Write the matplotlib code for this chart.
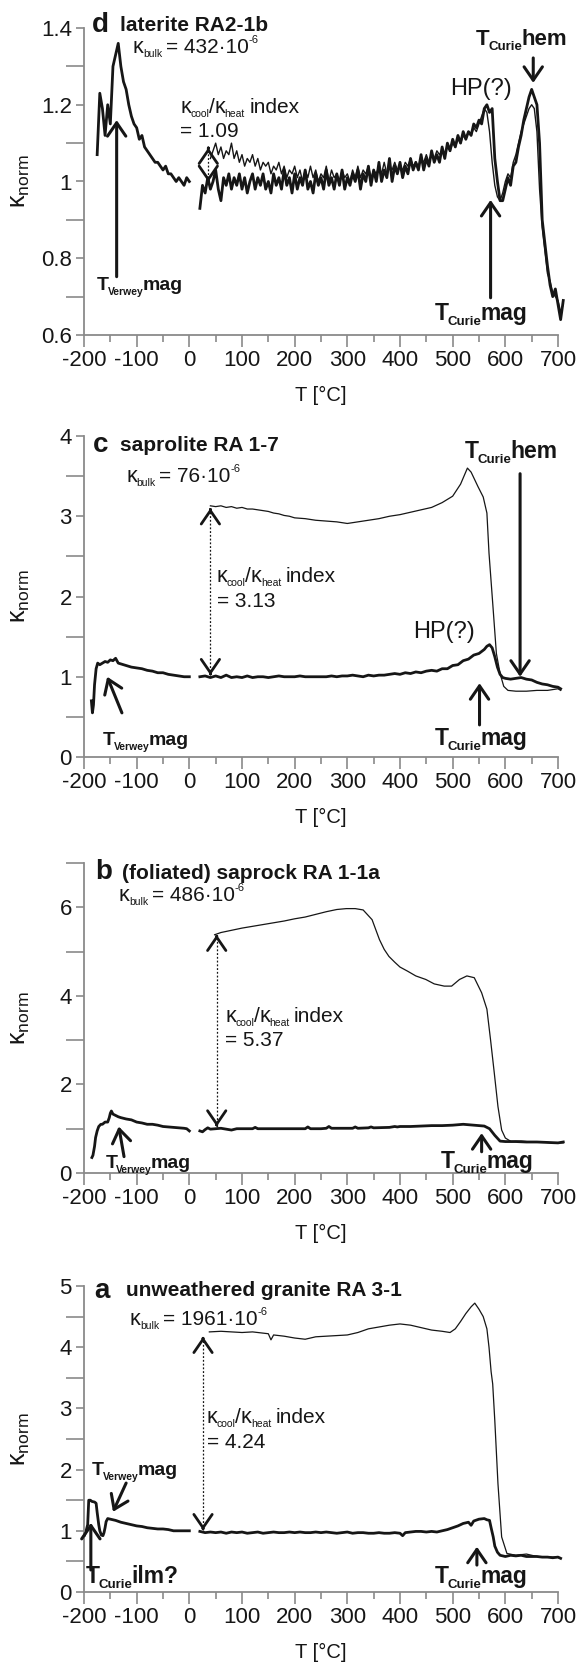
import numpy as np
import matplotlib
matplotlib.use('Agg')
import matplotlib.pyplot as plt
from matplotlib.ticker import MultipleLocator, FixedLocator, FuncFormatter
from matplotlib.transforms import offset_copy

plt.rcParams['font.family'] = ['Liberation Sans', 'DejaVu Sans']
plt.rcParams['mathtext.fontset'] = 'custom'
plt.rcParams['mathtext.rm'] = 'Liberation Sans'
plt.rcParams['mathtext.it'] = 'Liberation Sans:italic'
plt.rcParams['mathtext.bf'] = 'Liberation Sans:bold'
plt.rcParams['axes.unicode_minus'] = False

# ---------------- data ----------------
# panel d: laterite RA2-1b
d_low_T = np.arange(-175, 1, 5)
d_low = [1.07, 1.23, 1.19, 1.12, 1.20, 1.15, 1.30, 1.33, 1.36, 1.30,
         1.26, 1.24, 1.20, 1.17, 1.15, 1.14, 1.11, 1.12, 1.09, 1.08,
         1.07, 1.06, 1.05, 1.05, 1.04, 1.03, 1.04, 1.02, 1.02, 1.01,
         1.00, 1.01, 1.00, 0.99, 1.01, 1.00]
d_heat_T = np.arange(20, 711, 5)
d_heat = [0.93, 0.99, 0.97, 1.01, 0.98, 1.00, 1.03, 0.98, 0.95, 1.01,
          0.99, 1.02, 0.98, 1.01, 0.99, 1.02, 0.98, 1.01, 0.97, 1.00,
          1.02, 0.98, 1.01, 0.99, 1.02, 0.98, 1.00, 0.97, 1.02, 0.99,
          1.01, 0.98, 1.03, 0.99, 1.01, 0.97, 1.02, 0.98, 1.01, 0.99,
          1.03, 0.98, 1.00, 0.97, 1.02, 0.99, 1.01, 0.98, 1.03, 0.99,
          1.01, 0.98, 1.02, 0.99, 1.03, 0.98, 1.01, 0.99, 1.02, 1.00,
          1.03, 0.98, 1.02, 1.00, 1.04, 0.99, 1.03, 1.00, 1.05, 1.00,
          1.03, 1.01, 1.06, 1.00, 1.04, 1.02, 1.05, 1.01, 1.04, 1.02,
          1.06, 1.03, 1.05, 1.03, 1.07, 1.03, 1.06, 1.04, 1.08, 1.05,
          1.07, 1.05, 1.09, 1.06, 1.10, 1.08, 1.11, 1.09, 1.12, 1.10,
          1.13, 1.11, 1.13, 1.12, 1.15, 1.14, 1.16, 1.15, 1.19, 1.20,
          1.18, 1.19, 1.06, 1.00, 0.95, 0.95, 0.98, 1.01, 0.99, 1.04,
          1.05, 1.09, 1.12, 1.16, 1.19, 1.22, 1.24, 1.22, 1.20, 1.10,
          0.90, 0.84, 0.78, 0.73, 0.70, 0.72, 0.68, 0.64, 0.69]
d_cool_T = np.arange(40, 711, 5)
d_cool = [1.06, 1.08, 1.10, 1.07, 1.09, 1.06, 1.08, 1.07, 1.10, 1.06,
          1.08, 1.05, 1.07, 1.04, 1.06, 1.05, 1.07, 1.04, 1.06, 1.03,
          1.05, 1.04, 1.05, 1.02, 1.04, 1.03, 1.05, 1.02, 1.04, 1.01,
          1.03, 1.02, 1.04, 1.01, 1.03, 1.00, 1.03, 1.01, 1.04, 1.01,
          1.03, 1.00, 1.02, 1.01, 1.04, 1.00, 1.03, 1.01, 1.02, 1.00,
          1.03, 1.01, 1.02, 1.00, 1.03, 1.01, 1.04, 1.01, 1.03, 1.02,
          1.04, 1.01, 1.03, 1.02, 1.04, 1.02, 1.05, 1.02, 1.04, 1.03,
          1.05, 1.03, 1.04, 1.03, 1.05, 1.04, 1.06, 1.04, 1.05, 1.04,
          1.06, 1.05, 1.07, 1.05, 1.07, 1.06, 1.08, 1.07, 1.08, 1.07,
          1.09, 1.08, 1.10, 1.09, 1.11, 1.10, 1.12, 1.11, 1.13, 1.12,
          1.14, 1.13, 1.15, 1.17, 1.19, 1.18, 1.13, 1.05, 0.99, 0.96,
          0.95, 0.97, 1.00, 1.02, 1.01, 1.05, 1.07, 1.10, 1.13, 1.15,
          1.17, 1.19, 1.20, 1.19, 1.13, 0.98, 0.88, 0.82, 0.76, 0.74,
          0.71, 0.70, 0.69, 0.66, 0.68]

# panel c: saprolite RA 1-7
c_low_T = [-186, -184, -182, -180, -177, -174, -170, -165, -160, -155,
           -150, -145, -140, -135, -130, -120, -110, -100, -90, -80,
           -70, -60, -50, -40, -30, -20, -10, 0]
c_low = [0.70, 0.55, 0.65, 0.90, 1.10, 1.17, 1.15, 1.17, 1.19, 1.18,
         1.21, 1.20, 1.23, 1.17, 1.16, 1.14, 1.12, 1.11, 1.10, 1.08,
         1.07, 1.05, 1.05, 1.03, 1.02, 1.01, 1.00, 1.00]
c_heat_T = list(range(20, 561, 10)) + [565, 570, 575, 580, 585, 590, 595, 600, 610, 620,
                                       630, 640, 650, 660, 670, 680, 690, 700, 705]
c_heat = [1.00, 1.01, 0.99, 1.01, 0.99, 1.02, 0.99, 1.00, 0.99, 1.01,
          0.99, 1.00, 1.00, 0.99, 1.00, 1.01, 1.00, 1.00, 1.00, 1.01,
          1.00, 1.00, 1.00, 1.00, 1.00, 1.01, 1.00, 1.01, 1.01, 1.02,
          1.01, 1.00, 1.02, 1.01, 1.02, 1.02, 1.03, 1.04, 1.03, 1.05,
          1.04, 1.06, 1.05, 1.07, 1.08, 1.07, 1.10, 1.10, 1.14, 1.15,
          1.20, 1.22, 1.27, 1.29, 1.34,
          1.38, 1.40, 1.36, 1.25, 1.12, 1.03, 0.99, 0.98, 0.97, 0.98,
          0.99, 0.97, 0.96, 0.93, 0.91, 0.90, 0.88, 0.87, 0.85]
c_cool_T = [40, 50, 60, 70, 80, 90, 100, 110, 120, 130,
            140, 150, 160, 170, 180, 190, 200, 220, 240, 260,
            280, 300, 320, 340, 360, 380, 400, 420, 440, 460,
            480, 500, 515, 528, 535, 548, 558, 565, 569, 576,
            583, 590, 597, 605, 620, 640, 660, 680, 700, 705]
c_cool = [3.13, 3.12, 3.13, 3.11, 3.12, 3.10, 3.11, 3.09, 3.09, 3.08,
          3.07, 3.06, 3.04, 3.03, 3.01, 3.00, 2.98, 2.97, 2.95, 2.94,
          2.93, 2.91, 2.93, 2.95, 2.97, 3.00, 3.02, 3.05, 3.08, 3.11,
          3.17, 3.25, 3.40, 3.60, 3.55, 3.37, 3.24, 3.04, 2.54, 1.92,
          1.29, 1.04, 0.88, 0.83, 0.82, 0.82, 0.83, 0.83, 0.85, 0.83]

# panel b: (foliated) saprock RA 1-1a
b_low_T = [-185, -183, -180, -178, -175, -172, -168, -165, -160, -155,
           -152, -150, -148, -145, -140, -135, -130, -120, -110, -100,
           -90, -80, -70, -60, -50, -40, -30, -20, -10, -5, 0]
b_low = [0.35, 0.40, 0.60, 0.80, 0.95, 1.05, 1.10, 1.10, 1.15, 1.15,
         1.25, 1.35, 1.40, 1.33, 1.30, 1.27, 1.25, 1.22, 1.20, 1.15,
         1.13, 1.10, 1.10, 1.08, 1.05, 1.04, 1.03, 1.02, 1.01, 1.00, 0.95]
b_heat_T = [20, 25, 30, 35, 40, 50, 60, 70, 80, 90,
            100, 120, 125, 130, 150, 180, 200, 220, 225, 230,
            250, 260, 265, 270, 300, 310, 315, 320, 340, 345,
            350, 380, 390, 395, 400, 420, 440, 460, 480, 500,
            520, 540, 560, 570, 580, 590, 600, 620, 640, 660,
            680, 700, 710]
b_heat = [0.95, 0.93, 0.98, 1.02, 0.99, 1.00, 1.01, 0.99, 0.97, 1.00,
          1.00, 1.00, 1.03, 1.00, 1.00, 1.00, 1.00, 1.00, 1.04, 1.00,
          1.00, 1.01, 1.05, 1.01, 1.01, 1.01, 1.04, 1.01, 1.02, 1.04,
          1.02, 1.03, 1.05, 1.04, 1.05, 1.05, 1.06, 1.07, 1.07, 1.08,
          1.10, 1.08, 1.06, 1.00, 0.85, 0.72, 0.71, 0.71, 0.70, 0.70,
          0.69, 0.68, 0.70]
b_cool_T = [48, 60, 80, 100, 120, 140, 160, 180, 200, 220,
            240, 260, 280, 298, 315, 330, 347, 361, 370, 379,
            390, 400, 414, 430, 449, 465, 484, 498, 513, 527,
            541, 555, 565, 572, 579, 586, 593, 600, 611, 630,
            650, 670, 690, 710]
b_cool = [5.38, 5.43, 5.48, 5.53, 5.57, 5.61, 5.65, 5.69, 5.74, 5.78,
          5.84, 5.90, 5.95, 5.97, 5.97, 5.94, 5.72, 5.27, 5.05, 4.89,
          4.76, 4.65, 4.56, 4.45, 4.37, 4.27, 4.22, 4.22, 4.37, 4.45,
          4.41, 4.07, 3.70, 3.00, 2.26, 1.50, 0.97, 0.79, 0.71, 0.72,
          0.70, 0.70, 0.68, 0.68]

# panel a: unweathered granite RA 3-1
a_low_T = [-199, -196, -193, -191, -188, -185, -180, -177, -175, -172,
           -170, -167, -164, -162, -160, -158, -155, -150, -145, -140,
           -130, -120, -110, -100, -90, -80, -70, -60, -50, -40,
           -30, -20, -10, 0]
a_low = [0.93, 1.00, 1.10, 1.50, 1.50, 1.48, 1.47, 1.45, 1.30, 1.10,
         1.00, 0.93, 0.92, 0.97, 1.05, 1.15, 1.20, 1.19, 1.18, 1.17,
         1.14, 1.12, 1.10, 1.08, 1.07, 1.05, 1.04, 1.03, 1.03, 1.02,
         1.00, 1.00, 1.00, 1.00]
a_heat_T = list(range(20, 401, 10)) + [405, 410, 420, 430, 440, 450, 460, 470, 480, 490,
                                       500, 510, 520, 530, 535, 540, 550, 560, 565, 570,
                                       573, 577, 580, 585, 590, 600, 610, 620, 630, 640,
                                       650, 660, 670, 680, 690, 700, 705]
a_heat = [0.99, 0.97, 0.98, 0.97, 0.98, 0.96, 0.98, 0.97, 0.98, 0.96,
          0.97, 0.98, 0.96, 0.97, 0.98, 0.97, 0.97, 0.98, 0.97, 0.98,
          0.97, 0.97, 0.98, 0.97, 0.98, 0.97, 0.96, 0.97, 0.98, 0.96,
          0.97, 0.97, 0.96, 0.96, 0.97, 0.96, 0.96, 0.97, 0.96,
          0.92, 0.97, 0.98, 0.99, 0.99, 0.98, 0.99, 0.98, 1.00, 1.02,
          1.05, 1.08, 1.12, 1.14, 1.09, 1.16, 1.19, 1.20, 1.18, 1.17,
          1.05, 0.90, 0.75, 0.65, 0.60, 0.58, 0.60, 0.59, 0.60, 0.58,
          0.58, 0.58, 0.57, 0.57, 0.56, 0.57, 0.55]
a_cool_T = [38, 60, 80, 100, 120, 140, 150, 155, 160, 180,
            200, 220, 240, 260, 280, 300, 320, 340, 360, 380,
            400, 420, 440, 460, 480, 495, 505, 515, 525, 535,
            542, 550, 558, 565, 569, 573, 576, 580, 586, 593,
            603, 620, 640, 660, 680, 700, 705]
a_cool = [4.25, 4.26, 4.25, 4.24, 4.25, 4.23, 4.22, 4.12, 4.20, 4.18,
          4.15, 4.13, 4.17, 4.18, 4.19, 4.20, 4.24, 4.30, 4.33, 4.36,
          4.38, 4.36, 4.32, 4.28, 4.26, 4.24, 4.30, 4.42, 4.55, 4.66,
          4.72, 4.62, 4.50, 4.30, 4.00, 3.60, 3.40, 2.80, 1.77, 0.90,
          0.63, 0.60, 0.62, 0.58, 0.57, 0.57, 0.55]

x_ticks = [-200, -100, 0, 100, 200, 300, 400, 500, 600, 700]

# ---------------- figure ----------------
W, H = 579, 1669
fig = plt.figure(figsize=(W / 100, H / 100), dpi=100)
RENDERER = fig.canvas.get_renderer()
GRAY = '#8a8a8a'
INK = '#161616'
L_PX, R_PX = 84, 558
TICK_FS = 16
MAIN_FS = 15
KAPPA_FS = 15.5
SUB_FS = 7.5


def make_axes(top, bottom):
    return fig.add_axes([L_PX / W, 1 - bottom / H, (R_PX - L_PX) / W, (bottom - top) / H])


def setup(ax, ylim, major, minor, top, bottom):
    ax.set_xlim(-200, 700)
    ax.set_ylim(*ylim)
    ax.patch.set_alpha(0)
    for s in ['top', 'right']:
        ax.spines[s].set_visible(False)
    for s in ['left', 'bottom']:
        ax.spines[s].set_color(GRAY)
        ax.spines[s].set_linewidth(1.3)
    ax.xaxis.set_major_locator(FixedLocator(x_ticks))
    ax.xaxis.set_minor_locator(MultipleLocator(50))
    ax.yaxis.set_major_locator(FixedLocator(major))
    ax.yaxis.set_minor_locator(FixedLocator(minor))
    ax.yaxis.set_major_formatter(FuncFormatter(lambda v, p: f'{v:g}'))
    ax.xaxis.set_major_formatter(FuncFormatter(lambda v, p: f'{v:g}'))
    ax.tick_params(axis='x', which='major', length=8.6, width=1.2, color=GRAY,
                   pad=2.0, labelsize=TICK_FS, labelcolor=INK)
    ax.tick_params(axis='x', which='minor', length=5, width=1.2, color=GRAY)
    ax.tick_params(axis='y', which='major', length=5.8, width=1.2, color=GRAY,
                   pad=3.0, labelsize=TICK_FS, labelcolor=INK)
    ax.tick_params(axis='y', which='minor', length=13, width=1.2, color=GRAY)
    hpx = bottom - top
    ax.set_xlabel('T [°C]', fontsize=14.5, color=INK)
    ax.xaxis.set_label_coords(0.5, -60 / hpx)
    ax.xaxis.label.set_verticalalignment('center')
    ax.set_ylabel('κ$_{\\mathregular{norm}}$', fontsize=18, color=INK)
    ax.yaxis.set_label_coords(-64 / (R_PX - L_PX), 0.5)
    ax.yaxis.label.set_verticalalignment('center')


def curves(ax, low_T, low, heat_T, heat, cool_T, cool, lw_heat=2.0, lw_cool=0.9):
    ax.plot(low_T, low, color=INK, lw=lw_heat, clip_on=False, solid_joinstyle='round')
    ax.plot(heat_T, heat, color=INK, lw=lw_heat, clip_on=False, solid_joinstyle='round')
    ax.plot(cool_T, cool, color=INK, lw=lw_cool, clip_on=False, solid_joinstyle='round')


def arrow(ax, tail, tip, lw=2.2):
    ax.annotate('', xy=tip, xytext=tail, annotation_clip=False,
                arrowprops=dict(arrowstyle='->,head_length=0.8,head_width=0.55',
                                mutation_scale=12, lw=lw, color=INK,
                                shrinkA=0, shrinkB=0))


def index_arrow(ax, x, y0, y1):
    eps = (y1 - y0) * 0.01
    ax.plot([x, x], [y0, y1], color=INK, lw=0.9, ls=(0, (1.5, 1.5)))
    arrow(ax, (x, y1 - eps), (x, y1), lw=2.0)
    arrow(ax, (x, y0 + eps), (x, y0), lw=2.0)


def rich(ax, x, y, parts):
    """parts: (text, size_pt, bold, dy_pt, gap_after_pt)"""
    xoff = 0.0
    for s, size, bold, dy, gap in parts:
        tr = offset_copy(ax.transData, fig=fig, x=xoff, y=dy, units='points')
        t = ax.text(x, y, s, fontsize=size, fontweight='bold' if bold else 'normal',
                    color=INK, transform=tr, va='baseline', ha='left', clip_on=False)
        xoff += t.get_window_extent(RENDERER).width * 72 / fig.dpi + gap


def txt(ax, x, y, s, size=MAIN_FS, bold=False):
    rich(ax, x, y, [(s, size, bold, 0, 0)])


def kbulk(ax, x, y, num):
    rich(ax, x, y, [('κ', KAPPA_FS, False, 0, -0.4),
                    ('bulk', SUB_FS, False, -3, 2.8),
                    ('= ' + num + '·10', MAIN_FS, False, 0, -0.3),
                    ('-6', SUB_FS + 0.5, False, 7, 0)])


def index_text(ax, x, y, value, dy_line):
    rich(ax, x, y, [('κ', KAPPA_FS, False, 0, -0.4),
                    ('cool', SUB_FS, False, -3, -0.3),
                    ('/', MAIN_FS, False, 0, -0.3),
                    ('κ', KAPPA_FS, False, 0, -0.4),
                    ('heat', SUB_FS, False, -3, 3.2),
                    ('index', MAIN_FS, False, 0, 0)])
    txt(ax, x, y - dy_line, '= ' + value)


def tlabel(ax, x, y, sub, word, main=16.5, subsize=9):
    rich(ax, x, y, [('T', main, True, 0, -1.0),
                    (sub, subsize, True, -3.5, -0.6),
                    (word, main, True, 0, 0)])


# ---- panel d ----
ax = make_axes(28, 335)
setup(ax, (0.6, 1.4), [0.6, 0.8, 1.0, 1.2, 1.4], [0.7, 0.9, 1.1, 1.3], 28, 335)
curves(ax, d_low_T, d_low, d_heat_T, d_heat, d_cool_T, d_cool, lw_heat=2.0, lw_cool=1.0)
txt(ax, -185, 1.39, 'd', 20, True)
txt(ax, -131, 1.392, 'laterite RA2-1b', 15, True)
kbulk(ax, -107, 1.335, '432')
index_text(ax, -17, 1.179, '1.09', 0.063)
index_arrow(ax, 36, 0.999, 1.088)
arrow(ax, (-138, 0.752), (-138, 1.16))
tlabel(ax, -175, 0.718, 'Verwey', 'mag', 14, 7.5)
arrow(ax, (572, 0.697), (572, 0.952))
tlabel(ax, 466, 0.64, 'Curie', 'mag', 16.5, 9.5)
arrow(ax, (653, 1.322), (653, 1.257))
tlabel(ax, 544, 1.356, 'Curie', 'hem', 16, 9.5)
txt(ax, 495, 1.226, 'HP(?)', 17)

# ---- panel c ----
ax = make_axes(436, 757)
setup(ax, (0, 4), [0, 1, 2, 3, 4], [0.5, 1.5, 2.5, 3.5], 436, 757)
curves(ax, c_low_T, c_low, c_heat_T, c_heat, c_cool_T, c_cool)
txt(ax, -184, 3.80, 'c', 20, True)
txt(ax, -131, 3.81, 'saprolite RA 1-7', 15, True)
kbulk(ax, -120, 3.43, '76')
index_text(ax, 52, 2.18, '3.13', 0.31)
index_arrow(ax, 40, 1.02, 3.10)
arrow(ax, (-128, 0.55), (-156, 1.0))
tlabel(ax, -164, 0.15, 'Verwey', 'mag', 14, 7.5)
arrow(ax, (551, 0.40), (551, 0.92))
tlabel(ax, 466, 0.15, 'Curie', 'mag', 16.5, 9.5)
arrow(ax, (628, 3.53), (628, 1.0))
tlabel(ax, 523, 3.72, 'Curie', 'hem', 16.5, 9.5)
txt(ax, 425, 1.48, 'HP(?)', 17)

# ---- panel b ----
ax = make_axes(863, 1173)
setup(ax, (0, 7), [0, 2, 4, 6], [1, 3, 5, 7], 863, 1173)
curves(ax, b_low_T, b_low, b_heat_T, b_heat, b_cool_T, b_cool)
txt(ax, -178, 6.63, 'b', 20, True)
txt(ax, -128, 6.63, '(foliated) saprock RA 1-1a', 15, True)
kbulk(ax, -134, 6.14, '486')
index_text(ax, 68, 3.42, '5.37', 0.56)
index_arrow(ax, 52, 1.05, 5.38)
arrow(ax, (-124, 0.37), (-134, 1.05))
tlabel(ax, -159, 0.11, 'Verwey', 'mag', 14, 7.5)
arrow(ax, (555, 0.48), (555, 0.90))
tlabel(ax, 477, 0.11, 'Curie', 'mag', 16.5, 9.5)

# ---- panel a ----
ax = make_axes(1286, 1592)
setup(ax, (0, 5), [0, 1, 2, 3, 4, 5], [0.5, 1.5, 2.5, 3.5, 4.5], 1286, 1592)
curves(ax, a_low_T, a_low, a_heat_T, a_heat, a_cool_T, a_cool)
txt(ax, -180, 4.80, 'a', 20, True)
txt(ax, -120, 4.83, 'unweathered granite RA 3-1', 15, True)
kbulk(ax, -113, 4.36, '1961')
index_text(ax, 33, 2.76, '4.24', 0.41)
index_arrow(ax, 26, 1.01, 4.17)
arrow(ax, (-120, 1.78), (-145, 1.31))
tlabel(ax, -185, 1.91, 'Verwey', 'mag', 14, 7.5)
arrow(ax, (-187, 0.36), (-187, 1.13))
tlabel(ax, -196, 0.15, 'Curie', 'ilm?', 16.5, 9.5)
arrow(ax, (546, 0.44), (546, 0.74))
tlabel(ax, 466, 0.15, 'Curie', 'mag', 16.5, 9.5)

fig.savefig('out.png', dpi=100)
